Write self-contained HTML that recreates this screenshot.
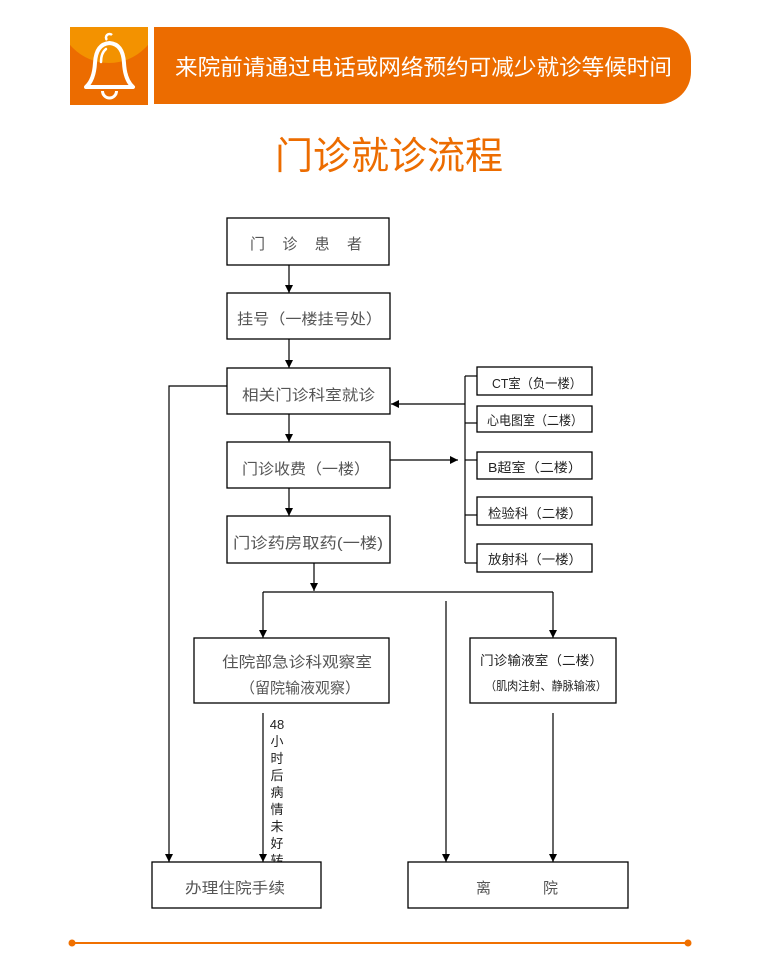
<!DOCTYPE html>
<html><head><meta charset="utf-8">
<style>
html,body{margin:0;padding:0;background:#fff;}
body{width:760px;height:976px;overflow:hidden;}
svg{display:block;}
text{font-family:"Liberation Sans","Noto Sans CJK SC",sans-serif;}
</style></head>
<body>
<svg width="760" height="976" viewBox="0 0 760 976" xmlns="http://www.w3.org/2000/svg">
<defs>
  <clipPath id="sq"><rect x="70" y="27" width="78" height="78"/></clipPath>
  <marker id="ah" viewBox="0 0 8 8" refX="8" refY="4" markerWidth="8" markerHeight="8" markerUnits="userSpaceOnUse" orient="auto">
    <path d="M0,0 L8,4 L0,8 Z" fill="#000"/>
  </marker>
</defs>

<!-- Header icon -->
<rect x="70" y="27" width="78" height="78" fill="#ec6c00"/>
<circle cx="109" cy="12" r="51" fill="#f39200" clip-path="url(#sq)"/>
<path d="M86 87 Q94 80 95 63 Q96 44 109.5 43 Q123 44 124 63 Q125 80 133 87 Z" fill="none" stroke="#fff" stroke-width="4" stroke-linejoin="round"/>
<path d="M107 40 A3.5 3.5 0 1 1 112 35" fill="none" stroke="#fff" stroke-width="2.5"/>
<path d="M102.5 91 A7 7 0 0 0 116.5 91" fill="none" stroke="#fff" stroke-width="3"/>
<path d="M101 62 Q101 53 106 49" fill="none" stroke="#fff" stroke-width="2.5" stroke-linecap="round"/>

<!-- Header banner -->
<path d="M154 27 H659 A32 32 0 0 1 691 59 V72 A32 32 0 0 1 659 104 H154 Z" fill="#ec6c00"/>
<text x="175" y="75" font-size="22" fill="#fff" textLength="497" lengthAdjust="spacingAndGlyphs">来院前请通过电话或网络预约可减少就诊等候时间</text>

<!-- Title -->
<text x="275" y="169" font-size="38" fill="#ec6c00" textLength="228" lengthAdjust="spacingAndGlyphs">门诊就诊流程</text>

<!-- Boxes -->
<g fill="#fff" stroke="#000" stroke-width="1.3">
  <rect x="227" y="218" width="162" height="47"/>
  <rect x="227" y="293" width="163" height="46"/>
  <rect x="227" y="368" width="163" height="46"/>
  <rect x="227" y="442" width="163" height="46"/>
  <rect x="227" y="516" width="163" height="47"/>
  <rect x="477" y="367" width="115" height="28"/>
  <rect x="477" y="406" width="115" height="26"/>
  <rect x="477" y="452" width="115" height="27"/>
  <rect x="477" y="497" width="115" height="28"/>
  <rect x="477" y="544" width="115" height="28"/>
  <rect x="194" y="638" width="195" height="65"/>
  <rect x="470" y="638" width="146" height="65"/>
</g>

<!-- Connectors -->
<g stroke="#000" stroke-width="1.2" fill="none">
  <line x1="289" y1="265" x2="289" y2="293" marker-end="url(#ah)"/>
  <line x1="289" y1="339" x2="289" y2="368" marker-end="url(#ah)"/>
  <line x1="289" y1="414" x2="289" y2="442" marker-end="url(#ah)"/>
  <line x1="289" y1="488" x2="289" y2="516" marker-end="url(#ah)"/>
  <line x1="314" y1="563" x2="314" y2="591" marker-end="url(#ah)"/>
  <line x1="263" y1="592" x2="553" y2="592"/>
  <line x1="263" y1="592" x2="263" y2="638" marker-end="url(#ah)"/>
  <line x1="553" y1="592" x2="553" y2="638" marker-end="url(#ah)"/>
  <line x1="446" y1="601" x2="446" y2="862" marker-end="url(#ah)"/>
  <polyline points="227,386 169,386 169,862" marker-end="url(#ah)"/>
  <line x1="263" y1="713" x2="263" y2="862" marker-end="url(#ah)"/>
  <line x1="553" y1="713" x2="553" y2="862" marker-end="url(#ah)"/>
  <line x1="465" y1="376" x2="465" y2="563"/>
  <line x1="465" y1="376" x2="477" y2="376"/>
  <line x1="465" y1="423" x2="477" y2="423"/>
  <line x1="465" y1="460" x2="477" y2="460"/>
  <line x1="465" y1="515" x2="477" y2="515"/>
  <line x1="465" y1="563" x2="477" y2="563"/>
  <line x1="465" y1="404" x2="391" y2="404" marker-end="url(#ah)"/>
  <line x1="390" y1="460" x2="458" y2="460" marker-end="url(#ah)"/>
</g>

<!-- vertical label -->
<g font-size="13" fill="#222" text-anchor="middle">
  <text x="277" y="729">48</text>
  <text x="277" y="746">小</text>
  <text x="277" y="763">时</text>
  <text x="277" y="780">后</text>
  <text x="277" y="797">病</text>
  <text x="277" y="814">情</text>
  <text x="277" y="831">未</text>
  <text x="277" y="848">好</text>
  <text x="277" y="865">转</text>
</g>

<!-- bottom boxes (drawn after label so they cover it) -->
<g fill="#fff" stroke="#000" stroke-width="1.3">
  <rect x="152" y="862" width="169" height="46"/>
  <rect x="408" y="862" width="220" height="46"/>
</g>

<!-- Box texts -->
<g font-size="15" fill="#555">
  <text x="250" y="249" textLength="112" lengthAdjust="spacing">门诊患者</text>
  <text x="237" y="324" textLength="145" lengthAdjust="spacingAndGlyphs">挂号（一楼挂号处）</text>
  <text x="242" y="400" textLength="133" lengthAdjust="spacingAndGlyphs">相关门诊科室就诊</text>
  <text x="242" y="474" textLength="128" lengthAdjust="spacingAndGlyphs">门诊收费（一楼）</text>
  <text x="233" y="548" textLength="150" lengthAdjust="spacingAndGlyphs">门诊药房取药(一楼)</text>
  <text x="222" y="667" textLength="150" lengthAdjust="spacingAndGlyphs">住院部急诊科观察室</text>
  <text x="240" y="693" textLength="120" lengthAdjust="spacingAndGlyphs">（留院输液观察）</text>
  <text x="185" y="893" textLength="100" lengthAdjust="spacingAndGlyphs">办理住院手续</text>
  <text x="476" y="893">离</text>
  <text x="543" y="893">院</text>
</g>
<g font-size="13" fill="#222">
  <text x="492" y="388" textLength="90" lengthAdjust="spacingAndGlyphs">CT室（负一楼）</text>
  <text x="487" y="425" textLength="96" lengthAdjust="spacingAndGlyphs">心电图室（二楼）</text>
  <text x="488" y="472" textLength="94" lengthAdjust="spacingAndGlyphs">B超室（二楼）</text>
  <text x="488" y="518" textLength="94" lengthAdjust="spacingAndGlyphs">检验科（二楼）</text>
  <text x="488" y="564" textLength="94" lengthAdjust="spacingAndGlyphs">放射科（一楼）</text>
  <text x="480" y="665" textLength="123" lengthAdjust="spacingAndGlyphs">门诊输液室（二楼）</text>
  <text x="485" y="690" font-size="12" textLength="122" lengthAdjust="spacingAndGlyphs">（肌肉注射、静脉输液）</text>
</g>

<!-- Footer line -->
<line x1="72" y1="943" x2="688" y2="943" stroke="#f07000" stroke-width="2"/>
<circle cx="72" cy="943" r="3.5" fill="#f07000"/>
<circle cx="688" cy="943" r="3.5" fill="#f07000"/>
</svg>
</body></html>
